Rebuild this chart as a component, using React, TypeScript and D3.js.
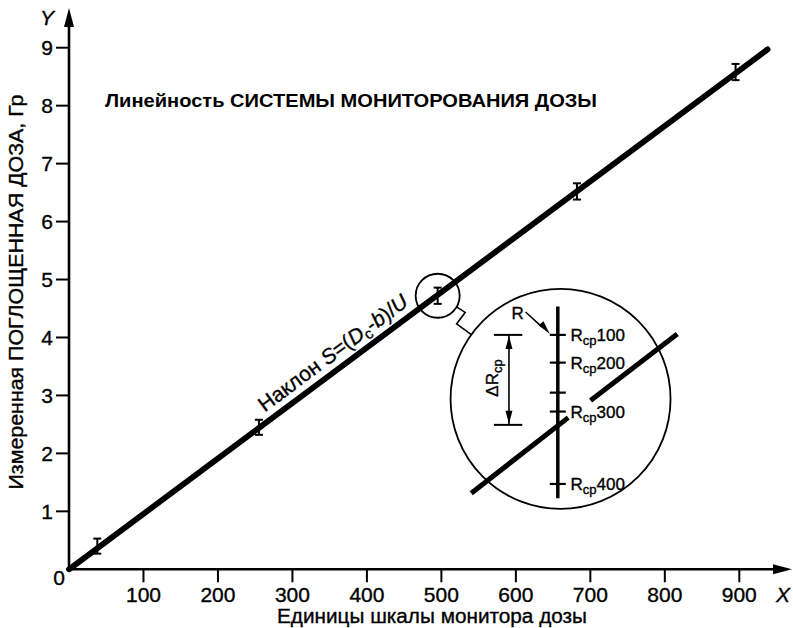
import React from "react";
import * as d3 from "d3";

// ---- data ----
const xTicks = [100, 200, 300, 400, 500, 600, 700, 800, 900];
const yTicks = [1, 2, 3, 4, 5, 6, 7, 8, 9];
const pointX = [38, 255, 495, 682, 895];
const pointY = [0.4, 2.45, 4.72, 6.52, 8.58];
const pointErr = [0.13, 0.13, 0.14, 0.14, 0.14];
const fitX = [0, 938];
const fitY = [0, 8.97];
const rcpLabels = ["100", "200", "", "300", "400"];
const rcpReadings = [-0.582, -0.33, -0.057, 0.115, 0.773];
const magCenter = [660, 2.94];

const W = 793;
const H = 628;
const FONT = "'Liberation Sans', Arial, Helvetica, sans-serif";
const heavy = { stroke: "#000", strokeWidth: 0.35, paintOrder: "stroke" } as const;

export default function App() {
  const x = d3.scaleLinear().domain([0, 900]).range([69, 739.3]);
  const y = d3.scaleLinear().domain([0, 9]).range([569.3, 47.7]);
  const x0 = x(0);
  const y0 = y(0);

  const line = d3
    .line<number>()
    .x((_, i) => x(fitX[i]))
    .y((_, i) => y(fitY[i]));
  const fitPath = line(fitX) || "";

  const dxp = x(fitX[1]) - x(fitX[0]);
  const dyp = y(fitY[1]) - y(fitY[0]);
  const ang = (Math.atan2(dyp, dxp) * 180) / Math.PI;
  const ux = dxp / Math.hypot(dxp, dyp);
  const uy = dyp / Math.hypot(dxp, dyp);
  const nx = uy;
  const ny = -ux;
  const lblX0 = 270;
  const lx = x(lblX0) + nx * 9;
  const ly = y((lblX0 * fitY[1]) / fitX[1]) + ny * 9;

  const mcx = x(magCenter[0]);
  const mcy = y(magCenter[1]);
  const R = 110;
  const u = d3.scaleLinear().domain([-1, 1]).range([mcx - R, mcx + R]);
  const v = d3.scaleLinear().domain([-1, 1]).range([mcy - R, mcy + R]);

  const scx = x(pointX[2]);
  const scy = y(pointY[2]);
  const sr = 22;
  const a1 = (30.5 * Math.PI) / 180;
  const a2 = (215.8 * Math.PI) / 180;
  const c0 = [scx + sr * Math.cos(a1), scy + sr * Math.sin(a1)];
  const c1 = [c0[0] + 8.5, c0[1] + 5.5];
  const c2 = [c1[0] - 8.5, c1[1] + 11.5];
  const c3 = [mcx + R * Math.cos(a2), mcy + R * Math.sin(a2)];
  const connector = d3.line()([c0, c1, c2, c3] as [number, number][]) || "";

  const barX = u(-0.025);
  const dimTop = v(rcpReadings[0]);
  const dimBot = v(0.236);
  const dimX = u(-0.469);

  return (
    <svg width={W} height={H} style={{ display: "block", background: "#fff" }} fontFamily={FONT}>
      <style>{`body{margin:0}`}</style>
      <rect width={W} height={H} fill="#fff" />

      {/* axes */}
      <line x1={x0} y1={y0} x2={x0} y2={26} stroke="#000" strokeWidth={2.6} />
      <path d={`M${x0},8 L${x0 - 5},27 L${x0 + 5},27 Z`} fill="#000" />
      <line x1={x0} y1={y0} x2={773} y2={y0} stroke="#000" strokeWidth={2.6} />
      <path d={`M792,${y0} L773,${y0 - 5} L773,${y0 + 5} Z`} fill="#000" />

      <g {...heavy}>
        {xTicks.map((t) => (
          <g key={"x" + t}>
            <line x1={x(t)} x2={x(t)} y1={y0} y2={y0 + 13} stroke="#000" strokeWidth={2} />
            <text x={x(t)} y={602} fontSize={21} textAnchor="middle">
              {t}
            </text>
          </g>
        ))}
        {yTicks.map((t) => (
          <g key={"y" + t}>
            <line x1={x0 - 13} x2={x0} y1={y(t)} y2={y(t)} stroke="#000" strokeWidth={2} />
            <text x={53} y={y(t)} dy="0.36em" fontSize={21} textAnchor="end">
              {t}
            </text>
          </g>
        ))}
        <text x={59} y={585} fontSize={21} textAnchor="middle">
          0
        </text>
        <text x={47} y={25} fontSize={21} fontStyle="italic" textAnchor="middle">
          Y
        </text>
        <text x={783} y={602} fontSize={21} fontStyle="italic" textAnchor="middle">
          X
        </text>

        {/* axis titles */}
        <text x={432} y={623} fontSize={20} textAnchor="middle" textLength={310} lengthAdjust="spacingAndGlyphs">
          Единицы шкалы монитора дозы
        </text>
        <text
          transform={`translate(23,292) rotate(-90)`}
          fontSize={20}
          textAnchor="middle"
          textLength={395}
          lengthAdjust="spacingAndGlyphs"
        >
          Измеренная ПОГЛОЩЕННАЯ ДОЗА, Гр
        </text>
      </g>

      <text x={105} y={107} fontSize={18} fontWeight="bold" textLength={492} lengthAdjust="spacingAndGlyphs">
        Линейность СИСТЕМЫ МОНИТОРОВАНИЯ ДОЗЫ
      </text>

      {/* fit line */}
      <path d={fitPath} stroke="#000" strokeWidth={5.8} strokeLinecap="round" fill="none" />

      {/* error bars */}
      {pointX.map((px, i) => {
        const cx = x(px);
        const t = y(pointY[i] + pointErr[i]);
        const b = y(pointY[i] - pointErr[i]);
        return (
          <g key={"e" + i} stroke="#000" strokeWidth={2}>
            <line x1={cx} x2={cx} y1={t} y2={b} />
            <line x1={cx - 4} x2={cx + 4} y1={t} y2={t} />
            <line x1={cx - 4} x2={cx + 4} y1={b} y2={b} />
          </g>
        );
      })}

      {/* slope label */}
      <text transform={`translate(${lx},${ly}) rotate(${ang})`} fontSize={21} {...heavy}>
        Наклон <tspan fontStyle="italic">S</tspan>=(<tspan fontStyle="italic">D</tspan>
        <tspan dy={4} fontSize={15}>
          c
        </tspan>
        <tspan dy={-4}>-</tspan>
        <tspan fontStyle="italic">b</tspan>)/<tspan fontStyle="italic">U</tspan>
      </text>

      {/* small circle + connector */}
      <circle cx={scx} cy={scy} r={sr} fill="none" stroke="#000" strokeWidth={1.8} />
      <path d={connector} fill="none" stroke="#000" strokeWidth={1.6} />

      {/* magnifier */}
      <circle cx={mcx} cy={mcy} r={R} fill="none" stroke="#000" strokeWidth={1.8} />
      <line x1={u(-0.812)} y1={v(0.857)} x2={u(0.07)} y2={v(0.17)} stroke="#000" strokeWidth={5} />
      <line x1={u(0.273)} y1={v(0.015)} x2={u(1.061)} y2={v(-0.591)} stroke="#000" strokeWidth={5} />
      <line x1={barX} x2={barX} y1={v(-0.84)} y2={v(0.903)} stroke="#000" strokeWidth={3.5} />
      {rcpReadings.map((r, i) => (
        <g key={"r" + i}>
          <line x1={barX - 8} x2={barX + 8} y1={v(r)} y2={v(r)} stroke="#000" strokeWidth={2.2} />
          {rcpLabels[i] && (
            <text x={u(0.09)} y={v(r) + 6} fontSize={17} {...heavy}>
              R
              <tspan dy={4} fontSize={13}>
                cp
              </tspan>
              <tspan dy={-4}>{rcpLabels[i]}</tspan>
            </text>
          )}
        </g>
      ))}
      {/* R leader */}
      <text x={u(-0.445)} y={v(-0.73)} fontSize={17} {...heavy}>
        R
      </text>
      <line x1={u(-0.318)} y1={v(-0.79)} x2={u(-0.17)} y2={v(-0.655)} stroke="#000" strokeWidth={1.6} />
      <path
        d={`M${barX - 8},${dimTop - 1} L${u(-0.2)},${v(-0.67)} L${u(-0.155)},${v(-0.705)} Z`}
        fill="#000"
      />
      {/* dimension ΔRcp */}
      <line x1={u(-0.606)} x2={u(-0.348)} y1={dimTop} y2={dimTop} stroke="#000" strokeWidth={2} />
      <line x1={u(-0.606)} x2={u(-0.348)} y1={dimBot} y2={dimBot} stroke="#000" strokeWidth={2} />
      <line x1={dimX} x2={dimX} y1={dimTop} y2={dimBot} stroke="#000" strokeWidth={1.6} />
      <path d={`M${dimX},${dimTop + 1} L${dimX - 3.5},${dimTop + 14} L${dimX + 3.5},${dimTop + 14} Z`} fill="#000" />
      <path d={`M${dimX},${dimBot - 1} L${dimX - 3.5},${dimBot - 14} L${dimX + 3.5},${dimBot - 14} Z`} fill="#000" />
      <text transform={`translate(${u(-0.573)},${v(-0.19)}) rotate(-90)`} fontSize={17} textAnchor="middle" {...heavy}>
        ΔR
        <tspan dy={4} fontSize={13}>
          cp
        </tspan>
      </text>
    </svg>
  );
}
